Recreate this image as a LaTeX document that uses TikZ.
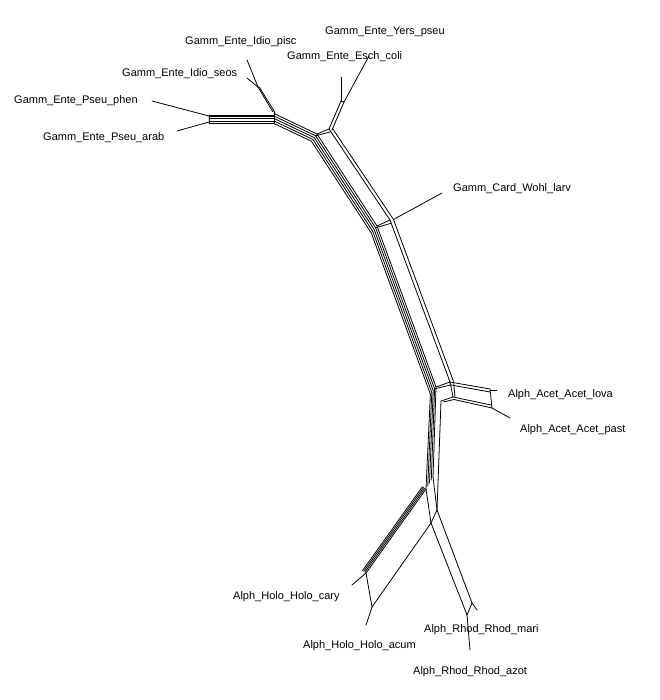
\documentclass[tikz,border=0pt]{standalone}
\usepackage{fontspec}
\setmainfont{Liberation Sans}
\usetikzlibrary{calc}
\begin{document}
\begin{tikzpicture}[x=1pt,y=-1pt,
  edge/.style={line width=0.8pt,line cap=round,line join=round},
  taxon/.style={anchor=base west,inner sep=0pt,font=\fontsize{11}{13}\selectfont}]
\useasboundingbox (0,0) rectangle (659,700);
\fill[white] (0,0) rectangle (659,700);

% ---- taxon labels
\node[taxon] (pisc) at (185,45)  {Gamm\_Ente\_Idio\_pisc};
\node[taxon] (yers) at (325,35)  {Gamm\_Ente\_Yers\_pseu};
\node[taxon] (esch) at (287,60)  {Gamm\_Ente\_Esch\_coli};
\node[taxon] (seos) at (122,77)  {Gamm\_Ente\_Idio\_seos};
\node[taxon] (phen) at (14,104)  {Gamm\_Ente\_Pseu\_phen};
\node[taxon] (arab) at (43,141)  {Gamm\_Ente\_Pseu\_arab};
\node[taxon] (wohl) at (453,192) {Gamm\_Card\_Wohl\_larv};
\node[taxon] (lova) at (508,397) {Alph\_Acet\_Acet\_lova};
\node[taxon] (past) at (520,432) {Alph\_Acet\_Acet\_past};
\node[taxon] (cary) at (233,599) {Alph\_Holo\_Holo\_cary};
\node[taxon] (acum) at (303,648) {Alph\_Holo\_Holo\_acum};
\node[taxon] (mari) at (424,632) {Alph\_Rhod\_Rhod\_mari};
\node[taxon] (azot) at (413,674) {Alph\_Rhod\_Rhod\_azot};

% ---- leaf tips
\coordinate (tpisc) at (247,60);
\coordinate (tseos) at (247,78);
\coordinate (tesch) at (341,77);
\coordinate (tyers) at (369,56);
\coordinate (tphen) at (152,101);
\coordinate (tarab) at (177,131);
\coordinate (twohl) at (442,193);
\coordinate (tlova) at (497,390);
\coordinate (tpast) at (510,418);
\coordinate (tcary) at (352,585);
\coordinate (tacum) at (366,625);
\coordinate (tmari) at (477,610);
\coordinate (tazot) at (470,650);

% ---- internal vertices
\coordinate (pl) at (209,115);
\coordinate (pr) at (274,115);
\coordinate (a0) at (274,113.5);
\coordinate (idio) at (258,87);
\coordinate (j1l) at (317,134);
\coordinate (j1r) at (329,129);
\coordinate (j2l) at (377,226);
\coordinate (j2r) at (390,220);
\coordinate (j3l) at (436,387);
\coordinate (j3r) at (450,382);
\coordinate (ey) at (341,101);
\coordinate (m)  at (433,477);
\coordinate (k1) at (426,489);
\coordinate (k2) at (437,510);
\coordinate (k3) at (431,523);
\coordinate (h1) at (366,573);
\coordinate (h2) at (372,607);
\coordinate (r1) at (467,615);
\coordinate (r2) at (472,603);
\coordinate (au) at (490,389);
\coordinate (ad) at (492,408);
\coordinate (al) at (453,397);
\coordinate (lc) at (441,401);

\begin{scope}[edge]
% Pseudomonas band
\foreach \dy in {0,1.3,3,6,8}
  \draw ($(pl)+(0,\dy)$) -- ($(pr)+(0,\dy)$);
\draw (pl) -- ++(0,8);
\draw (274,112) -- (274,124);
\draw ($(pl)+(0,1)$) -- (tphen);
\draw ($(pl)+(0,7)$) -- (tarab);

% Idiomarina
\draw (273,112) -- (idio);
\draw (275,112.5) -- ($(idio)+(1.5,0.5)$) -- (idio);
\draw (idio) -- (tpisc);
\draw (idio) -- (tseos);

% band into the trunk
\foreach \i in {0,...,4}
  \draw ($(a0)+\i*(0,2.5)$) -- ($(j1l)+\i*(-1.4,1.8)$);

% trunk, left bundle
\foreach \i in {0,...,4} {
  \draw ($(j1l)+\i*(-1.4,1.8)$) -- ($(j2l)+\i*(-1.4,1.8)$)
        -- ($(j3l)+\i*(-1.4,1.8)$) -- ($(m)!\i/4!(k1)$);
}

% trunk, right pair
\foreach \i in {0,1}
  \draw ($(j1r)+\i*(3.5,-0.5)$) -- ($(j2r)+\i*(3.5,-0.5)$) -- ($(j3r)+\i*(3.5,-0.5)$);

% cross links of the trunk
\draw (j1l) -- (j1r);
\draw ($(j1l)+(-1.4,1.8)$) -- ($(j1r)!0.03!(j2r)$);
\draw (j2l) -- (j2r);
\draw ($(j2l)+(-1.4,1.8)$) -- ($(j2r)!0.02!(j3r)$);
\draw (j3l) -- (j3r);
\draw ($(j3l)+(-1.4,1.8)$) -- ($(j3r)!0.2!(al)$);

% Escherichia / Yersinia
\foreach \i in {0,1}
  \draw ($(j1r)+\i*(3,1)$) -- ($(ey)+\i*(3,1)$);
\draw (ey) -- ++(3,1);
\draw (ey) -- (tesch);
\draw ($(ey)+(3,1)$) -- (tyers);

% Wohlfahrtiimonas
\draw ($(j2r)+(3.5,-0.5)$) -- (twohl);

% Acetobacteraceae
\draw (j3r) -- (au);
\draw ($(j3r)+(1,3)$) -- ($(au)+(0,3)$);
\draw (al) -- ($(ad)+(-1,-3)$);
\draw ($(al)+(1,2.5)$) -- (ad);
\draw (j3r) -- (al);
\draw ($(j3r)+(3.5,-0.5)$) -- ($(al)+(2,0)$);
\draw (au) -- (ad);
\draw ($(au)+(0,1)$) -- (tlova);
\draw (ad) -- (tpast);
\draw (al) -- (lc);
\draw ($(al)+(1,2.5)$) -- ($(lc)+(2.5,1)$);

% lower trunk, right line
\draw (lc) -- (k2);

% Holophagaceae
\foreach \i in {0,...,3}
  \draw ($(k1)+\i*(-1.15,-0.8)$) -- ($(h1)+\i*(-1.15,-0.8)$);
\draw (m) -- (k2);
\draw (k1) -- (k3);
\draw (k2) -- (k3);
\draw (k3) -- (h2);
\draw (h1) -- (h2);
\draw (h1) -- (tcary);
\draw (h2) -- (tacum);

% Rhodobacteraceae
\draw (k3) -- (r1);
\draw (k2) -- (r2);
\draw (r2) -- (r1);
\draw (r2) -- (tmari);
\draw (r1) -- (tazot);
\end{scope}
\end{tikzpicture}
\end{document}
